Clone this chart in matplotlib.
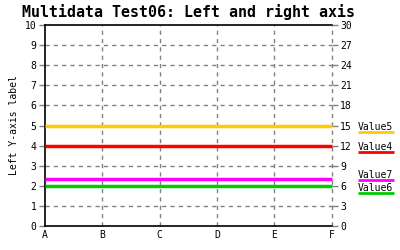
import matplotlib
matplotlib.use('Agg')
from matplotlib import pyplot as plt
from matplotlib import transforms

categories = ['A', 'B', 'C', 'D', 'E', 'F']
series_names = ['Value5', 'Value4', 'Value7', 'Value6']
value5 = [15, 15, 15, 15, 15, 15]
value4 = [12, 12, 12, 12, 12, 12]
value7 = [7, 7, 7, 7, 7, 7]
value6 = [6, 6, 6, 6, 6, 6]
left_ticks = list(range(0, 11))
right_ticks = list(range(0, 31, 3))

colors = ['#ffcc00', '#ff0000', '#ff00ff', '#00cc00']
# vertical offsets (pixels) of the legend underlines, so labels don't collide
label_nudge = [-6, -6, -1, -7]

plt.rcParams['font.family'] = ['DejaVu Sans Mono']
fig = plt.figure(figsize=(4, 2.5), dpi=100)
ax = fig.add_axes([0.1125, 0.096, 0.717, 0.804])
ax2 = ax.twinx()

x = list(range(len(categories)))
ax.set_xlim(0, len(categories) - 1)
ax.set_ylim(0, 10)
ax2.set_ylim(0, 30)
ax.set_xticks(x)
ax.set_xticklabels(categories)
ax.set_yticks(left_ticks)
ax2.set_yticks(right_ticks)

grid_style = dict(color='#808080', linestyle=(0, (3, 3)), linewidth=1)
for t in left_ticks[1:-1]:
    ax.axhline(t, zorder=0, **grid_style)
for xi in x[1:]:
    ax.axvline(xi, zorder=0, clip_on=False, **grid_style)

for s in ['top', 'left', 'bottom']:
    ax.spines[s].set_linewidth(1.2)
ax.spines['right'].set_visible(False)
for s in ['top', 'left', 'bottom', 'right']:
    ax2.spines[s].set_visible(False)

ax.tick_params(axis='y', length=4, width=1, color='#808080', labelsize=7, pad=2)
ax.tick_params(axis='x', length=0, labelsize=7, pad=3)
ax2.tick_params(axis='y', length=4, width=1, color='#808080', labelsize=7, pad=2)

tr = transforms.blended_transform_factory(ax.transAxes, ax2.transData)
for vals, name, c, dy in zip([value5, value4, value7, value6], series_names, colors, label_nudge):
    ax2.plot(x, vals, color=c, linewidth=2.5, solid_capstyle='butt', clip_on=False)
    off = transforms.offset_copy(tr, fig=fig, x=26, y=dy + 2, units='dots')
    ax2.text(1.0, vals[-1], name, transform=off, fontsize=7, ha='left', va='baseline')
    uoff = transforms.offset_copy(tr, fig=fig, x=0, y=dy, units='dots')
    ax2.plot([1.0 + 26 / 287, 1.0 + 62 / 287], [vals[-1], vals[-1]], color=c,
             linewidth=2, transform=uoff, clip_on=False, solid_capstyle='butt')

ax.set_ylabel('Left Y-axis label', fontsize=7, labelpad=4)
fig.text(0.47, 0.985, 'Multidata Test06: Left and right axis', fontsize=10.8,
         fontweight='bold', ha='center', va='top')

fig.savefig('out.png', dpi=100)
